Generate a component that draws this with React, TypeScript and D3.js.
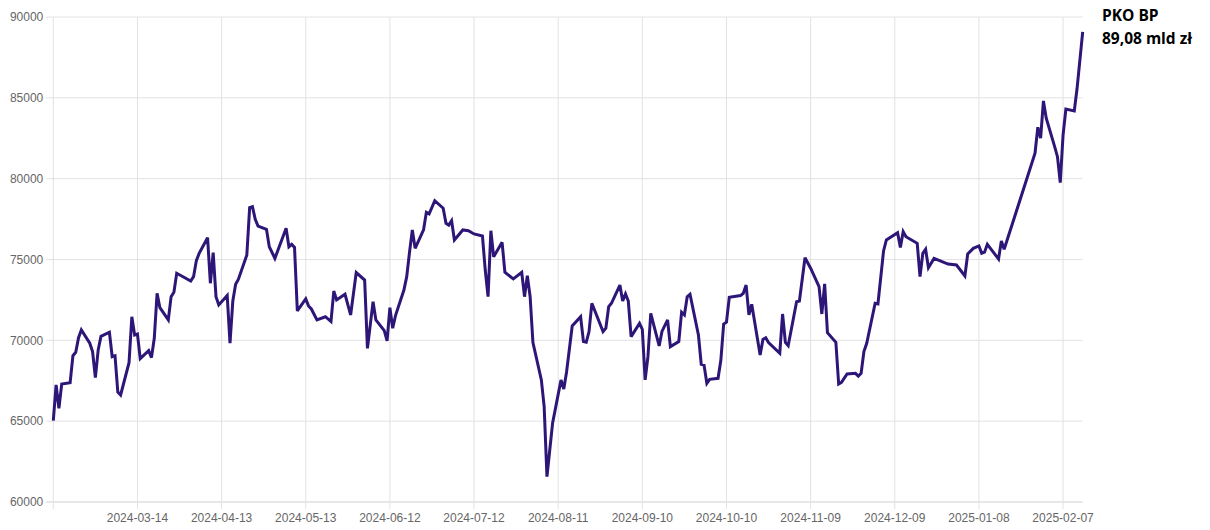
import React from "react";
import * as d3 from "d3";

const dates: string[] = [
  "2024-02-13","2024-02-14","2024-02-15","2024-02-16","2024-02-19","2024-02-20","2024-02-21","2024-02-22","2024-02-23",
  "2024-02-26","2024-02-27","2024-02-28","2024-02-29","2024-03-01","2024-03-04","2024-03-05","2024-03-06","2024-03-07","2024-03-08",
  "2024-03-11","2024-03-12","2024-03-13","2024-03-14","2024-03-15","2024-03-18","2024-03-19","2024-03-20","2024-03-21","2024-03-22",
  "2024-03-25","2024-03-26","2024-03-27","2024-03-28","2024-04-02","2024-04-03","2024-04-04","2024-04-05",
  "2024-04-08","2024-04-09","2024-04-10","2024-04-11","2024-04-12","2024-04-15","2024-04-16","2024-04-17","2024-04-18","2024-04-19",
  "2024-04-22","2024-04-23","2024-04-24","2024-04-25","2024-04-26","2024-04-29","2024-04-30","2024-05-02","2024-05-06","2024-05-07",
  "2024-05-08","2024-05-09","2024-05-10","2024-05-13","2024-05-14","2024-05-15","2024-05-17","2024-05-20","2024-05-22","2024-05-23",
  "2024-05-24","2024-05-27","2024-05-29","2024-05-31","2024-06-03","2024-06-04","2024-06-06","2024-06-07","2024-06-10","2024-06-11",
  "2024-06-12","2024-06-13","2024-06-14","2024-06-17","2024-06-18","2024-06-19","2024-06-20","2024-06-21","2024-06-24","2024-06-25",
  "2024-06-26","2024-06-28","2024-07-01","2024-07-02","2024-07-03","2024-07-04","2024-07-05","2024-07-08","2024-07-10","2024-07-12",
  "2024-07-15","2024-07-16","2024-07-17","2024-07-18","2024-07-19","2024-07-22","2024-07-23","2024-07-26","2024-07-29","2024-07-30",
  "2024-07-31","2024-08-01","2024-08-02","2024-08-05","2024-08-06","2024-08-07","2024-08-09","2024-08-12","2024-08-13","2024-08-14",
  "2024-08-16","2024-08-19","2024-08-20","2024-08-21","2024-08-22","2024-08-23","2024-08-27","2024-08-28","2024-08-29","2024-08-30",
  "2024-09-02","2024-09-03","2024-09-04","2024-09-05","2024-09-06","2024-09-09","2024-09-10","2024-09-11","2024-09-12","2024-09-13",
  "2024-09-16","2024-09-17","2024-09-19","2024-09-20","2024-09-23","2024-09-24","2024-09-25","2024-09-26","2024-09-27","2024-09-30",
  "2024-10-01","2024-10-02","2024-10-03","2024-10-04","2024-10-07","2024-10-08","2024-10-09","2024-10-10","2024-10-11","2024-10-15",
  "2024-10-16","2024-10-17","2024-10-18","2024-10-19","2024-10-22","2024-10-23","2024-10-24","2024-10-25","2024-10-29","2024-10-30",
  "2024-10-31","2024-11-01","2024-11-04","2024-11-05","2024-11-07","2024-11-09","2024-11-12","2024-11-13","2024-11-14","2024-11-15",
  "2024-11-18","2024-11-19","2024-11-20","2024-11-22","2024-11-25","2024-11-26","2024-11-27","2024-11-28","2024-11-29","2024-12-02",
  "2024-12-03","2024-12-05","2024-12-06","2024-12-10","2024-12-11","2024-12-12","2024-12-13","2024-12-17","2024-12-18","2024-12-19",
  "2024-12-20","2024-12-21","2024-12-23","2024-12-28","2024-12-31","2025-01-03","2025-01-04","2025-01-06","2025-01-08","2025-01-09",
  "2025-01-10","2025-01-11","2025-01-15","2025-01-16","2025-01-17","2025-01-28","2025-01-29","2025-01-30","2025-01-31","2025-02-01",
  "2025-02-04","2025-02-05","2025-02-06","2025-02-07","2025-02-08","2025-02-11","2025-02-12","2025-02-14",
];

const values: number[] = [
  65030,67240,65800,67300,67380,69050,69260,70160,70640,
  69820,69300,67690,69400,70250,70500,68990,69050,66800,66620,
  68620,71460,70330,70390,68870,69360,68930,70130,72910,72020,
  71260,72700,72970,74150,73670,73940,74930,75380,
  76350,73530,75420,72700,72190,72770,69820,72430,73470,73780,
  75280,78210,78270,77490,77070,76870,75790,75070,76930,75790,
  75940,75750,71820,72560,72130,71940,71260,71460,71160,73050,
  72500,72850,71570,74190,73730,69500,72390,71260,70600,69960,
  72020,70750,71530,73110,73940,75450,76830,75690,76830,77920,
  77820,78640,78170,77240,77130,77400,76210,76830,76780,76580,
  76450,74350,72700,76780,75170,76060,74210,73800,74210,72700,
  74000,72700,69860,67550,65900,61570,64870,67550,66990,68060,
  70890,71460,69920,69880,70540,72290,70540,70750,72080,72290,
  73420,72430,72870,72430,70230,71050,70680,67550,68990,71670,
  69650,70550,71260,69610,69920,71740,71570,72700,72850,70330,
  68520,68470,67340,67590,67650,68780,71010,71120,72660,72770,
  72910,73420,71570,72230,69090,70060,70160,69860,69200,71630,
  69880,69670,72390,72430,75110,74460,73320,71630,73490,70470,
  69880,67300,67400,67920,67960,67790,67960,69300,69820,72290,
  72250,75530,76210,76660,75750,76720,76410,76000,73940,75380,
  75630,74490,75070,74720,74660,73980,75340,75690,75840,75380,
  75450,75940,75030,76150,75630,81570,83180,82500,84810,83740,
  81980,81360,79750,82700,84310,84190,85590,89080,
];

const xTickLabels: string[] = [
  "2024-03-14","2024-04-13","2024-05-13","2024-06-12","2024-07-12","2024-08-11",
  "2024-09-10","2024-10-10","2024-11-09","2024-12-09","2025-01-08","2025-02-07",
];
const yTickValues: number[] = [60000, 65000, 70000, 75000, 80000, 85000, 90000];

const seriesName = "PKO BP";
const lastLabel = "89,08 mld zł";

const parse = d3.utcParse("%Y-%m-%d");

export default function App() {
  const W = 1210, H = 530;
  const left = 53.3, right = 1082.7, top = 17, bottom = 502;
  const pts = dates.map((d, i) => ({ d: parse(d) as Date, v: values[i] }));
  const x = d3.scaleUtc().domain(d3.extent(pts, p => p.d) as [Date, Date]).range([left, right]);
  const y = d3.scaleLinear().domain([60000, 90000]).range([bottom, top]);
  const line = d3.line<{ d: Date; v: number }>().x(p => x(p.d)).y(p => y(p.v));
  const font = "'Liberation Sans', Arial, sans-serif";
  const gridColor = "#e2e2e2";
  return (
    <svg width={W} height={H} style={{ position: "absolute", left: 0, top: 0, background: "#fff" }}>
      {yTickValues.map(t => (
        <g key={t}>
          <line x1={left - 7} x2={right} y1={y(t)} y2={y(t)} stroke={t === 60000 ? "#cfcfcf" : gridColor} strokeWidth={1} />
          <text x={left - 10} y={y(t)} dy="0.35em" textAnchor="end" fontFamily={font} fontSize={12} fill="#666">{t}</text>
        </g>
      ))}
      <line x1={left} x2={left} y1={top} y2={bottom + 7} stroke={gridColor} />
      {xTickLabels.map(s => {
        const xx = x(parse(s) as Date);
        return (
          <g key={s}>
            <line x1={xx} x2={xx} y1={top} y2={bottom + 7} stroke={gridColor} strokeWidth={1} />
            <text x={xx} y={522} textAnchor="middle" fontFamily={font} fontSize={12} fill="#666">{s}</text>
          </g>
        );
      })}
      <path d={line(pts) || ""} fill="none" stroke="#2d1677" strokeWidth={3} strokeLinejoin="miter" strokeMiterlimit={3} />
      <text x={1102} y={21} fontFamily="'Open Sans', sans-serif" fontWeight="bold" fontSize={15.5} fill="#000">{seriesName}</text>
      <text x={1102} y={43.5} fontFamily="'Open Sans', sans-serif" fontWeight="bold" fontSize={15.5} fill="#000">{lastLabel}</text>
    </svg>
  );
}
